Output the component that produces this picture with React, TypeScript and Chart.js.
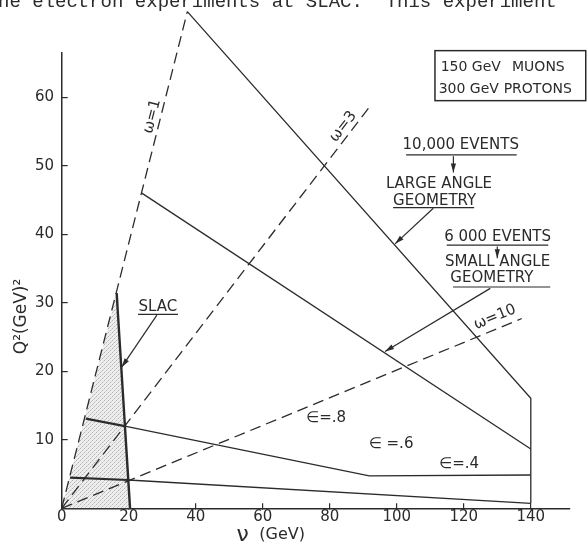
import { useEffect, useRef } from "react";
import { Chart, registerables } from "chart.js";

Chart.register(...registerables);

// ---- data (ν in GeV, Q² in GeV²) ----
const xTicks = [0, 20, 40, 60, 80, 100, 120, 140];
const yTicks = [10, 20, 30, 40, 50, 60];

const omega1Line = [{ x: 0, y: 0 }, { x: 37.5, y: 72.5 }];
const omega3Line = [{ x: 0, y: 0 }, { x: 92.5, y: 59.0 }];
const omega10Line = [{ x: 0, y: 0 }, { x: 137.3, y: 27.7 }];

const largeAngleLine = [{ x: 37.5, y: 72.5 }, { x: 140, y: 16.06 }, { x: 140, y: 0.73 }];
const smallAngleLine = [{ x: 23.9, y: 46.0 }, { x: 140, y: 8.66 }];
const upperEpsLine = [{ x: 7.2, y: 13.1 }, { x: 19.2, y: 11.95 }, { x: 91.8, y: 4.72 }, { x: 140, y: 4.86 }];
const lowerEpsLine = [{ x: 2.5, y: 4.47 }, { x: 19.9, y: 4.13 }, { x: 140, y: 0.73 }];

const slacRegion = [{ x: 0, y: 0 }, { x: 16.4, y: 31.4 }, { x: 20.4, y: 0 }, { x: 0, y: 0 }];
const slacEdge = [{ x: 16.4, y: 31.4 }, { x: 20.4, y: 0 }];

const INK = "#2b2b2b";
const FONT = '"DejaVu Sans", sans-serif';

// annotation texts placed in data coordinates
const annTexts = [
  { t: "10,000 EVENTS", x: 119.1, y: 53.0, ul: [102.8, 135.8, 51.6] },
  { t: "LARGE ANGLE", x: 112.6, y: 47.3 },
  { t: "GEOMETRY", x: 111.3, y: 44.9, ul: [98.9, 123.1, 43.9] },
  { t: "6 000 EVENTS", x: 130.1, y: 39.6, ul: [114.9, 145.2, 38.4] },
  { t: "SMALL ANGLE", x: 130.1, y: 35.9 },
  { t: "GEOMETRY", x: 128.4, y: 33.6, ul: [116.8, 145.8, 32.3] },
  { t: "SLAC", x: 28.7, y: 29.3, ul: [22.8, 34.7, 28.3] },
  { t: "∈=.8", x: 78.9, y: 13.1 },
  { t: "∈ =.6", x: 98.3, y: 9.4 },
  { t: "∈=.4", x: 118.6, y: 6.5 },
];
const annArrows = [
  [116.9, 51.4, 116.9, 49.0],
  [110.9, 43.8, 99.5, 38.6],
  [130.0, 38.2, 130.0, 36.5],
  [127.9, 32.1, 96.5, 22.9],
  [28.4, 28.2, 17.9, 20.6],
];
const omegaLabels = [
  { t: "ω=1", x: 27.0, y: 57.2, line: omega1Line },
  { t: "ω=3", x: 84.0, y: 55.7, line: omega3Line },
  { t: "ω=10", x: 129.3, y: 27.9, line: omega10Line },
];

function arrow(ctx: CanvasRenderingContext2D, x1: number, y1: number, x2: number, y2: number) {
  ctx.beginPath();
  ctx.moveTo(x1, y1);
  ctx.lineTo(x2, y2);
  ctx.stroke();
  const a = Math.atan2(y2 - y1, x2 - x1);
  const L = 9, W = 2.6;
  ctx.beginPath();
  ctx.moveTo(x2, y2);
  ctx.lineTo(x2 - L * Math.cos(a) + W * Math.sin(a), y2 - L * Math.sin(a) - W * Math.cos(a));
  ctx.lineTo(x2 - L * Math.cos(a) - W * Math.sin(a), y2 - L * Math.sin(a) + W * Math.cos(a));
  ctx.closePath();
  ctx.fill();
}

const annotPlugin = {
  id: "annot",
  afterDraw(chart: any) {
    const { ctx, scales } = chart;
    const xs = scales.x, ys = scales.y;
    const px = (v: number) => xs.getPixelForValue(v);
    const py = (v: number) => ys.getPixelForValue(v);
    ctx.save();
    ctx.fillStyle = INK;
    ctx.strokeStyle = INK;
    ctx.lineWidth = 1.2;

    // clipped page text at the top
    ctx.font = '19px "Liberation Mono", monospace';
    ctx.textAlign = "left";
    ctx.textBaseline = "alphabetic";
    ctx.fillText("he electron experiments at SLAC.  This experiment", -2, 7);

    // axis titles
    ctx.save();
    ctx.translate(chart.chartArea.left - 40, py(28));
    ctx.rotate(-Math.PI / 2);
    ctx.font = `17px ${FONT}`;
    ctx.textAlign = "center";
    ctx.textBaseline = "middle";
    ctx.fillText("Q²(GeV)²", 0, 0);
    ctx.restore();

    ctx.textBaseline = "middle";
    ctx.textAlign = "center";
    const ty = chart.chartArea.bottom + 27;
    ctx.font = `22px ${FONT}`;
    ctx.fillText("ν", px(54.0), ty);
    ctx.font = `16px ${FONT}`;
    ctx.fillText("(GeV)", px(65.8), ty);

    // annotation texts
    ctx.font = `15px ${FONT}`;
    for (const a of annTexts) {
      ctx.fillText(a.t, px(a.x), py(a.y));
      if (a.ul) {
        ctx.beginPath();
        ctx.moveTo(px(a.ul[0]), py(a.ul[2]));
        ctx.lineTo(px(a.ul[1]), py(a.ul[2]));
        ctx.stroke();
      }
    }
    for (const r of annArrows) arrow(ctx, px(r[0]), py(r[1]), px(r[2]), py(r[3]));

    // rotated omega labels
    for (const o of omegaLabels) {
      const p0 = o.line[0], p1 = o.line[o.line.length - 1];
      const ang = Math.atan2(py(p1.y) - py(p0.y), px(p1.x) - px(p0.x));
      ctx.save();
      ctx.translate(px(o.x), py(o.y));
      ctx.rotate(ang);
      ctx.fillText(o.t, 0, 0);
      ctx.restore();
    }

    // beam box
    ctx.lineWidth = 1.5;
    const bx0 = px(111.4), bx1 = px(156.4), by0 = py(66.8), by1 = py(59.5);
    ctx.strokeRect(bx0, by0, bx1 - bx0, by1 - by0);
    ctx.textAlign = "left";
    ctx.font = `14px ${FONT}`;
    ctx.fillText("150 GeV", px(113.1), py(64.3));
    ctx.fillText("MUONS", px(134.4), py(64.3));
    ctx.fillText("300 GeV", px(112.5), py(61.1));
    ctx.fillText("PROTONS", px(131.9), py(61.1));

    ctx.restore();
  },
};

export default function App() {
  const ref = useRef<HTMLCanvasElement | null>(null);
  useEffect(() => {
    if (!ref.current) return;
    const pc = document.createElement("canvas");
    pc.width = 4;
    pc.height = 4;
    const pctx = pc.getContext("2d")!;
    pctx.fillStyle = "#eeeeee";
    pctx.fillRect(0, 0, 4, 4);
    pctx.fillStyle = "#b4b4b4";
    pctx.fillRect(0, 0, 1, 1);
    pctx.fillRect(2, 2, 1, 1);
    pctx.fillStyle = "#cfcfcf";
    pctx.fillRect(3, 1, 1, 1);
    pctx.fillRect(1, 3, 1, 1);
    const pattern = pctx.createPattern(pc, "repeat")!;

    const base = {
      borderColor: INK,
      borderWidth: 1.3,
      pointRadius: 0,
      showLine: true,
      fill: false,
      clip: false,
      tension: 0,
    };
    const dash = [11, 6];
    const tickFont = { family: FONT, size: 15 };

    const chart = new Chart(ref.current, {
      type: "scatter",
      data: {
        datasets: [
          { ...base, data: slacRegion, fill: "shape", backgroundColor: pattern, borderWidth: 0, order: 10 } as any,
          { ...base, data: slacEdge, borderWidth: 2.4 },
          { ...base, data: omega1Line, borderDash: dash },
          { ...base, data: omega3Line, borderDash: dash },
          { ...base, data: omega10Line, borderDash: dash },
          { ...base, data: largeAngleLine },
          { ...base, data: smallAngleLine },
          { ...base, data: upperEpsLine, segment: { borderWidth: (c: any) => (c.p0DataIndex === 0 ? 2.2 : 1.3) } },
          { ...base, data: lowerEpsLine, segment: { borderWidth: (c: any) => (c.p0DataIndex === 0 ? 2.2 : 1.3) } },
        ],
      },
      options: {
        responsive: false,
        animation: false,
        events: [],
        layout: { padding: { left: 0, right: 18, top: 52.7, bottom: 0 } },
        plugins: { legend: { display: false }, tooltip: { enabled: false } },
        scales: {
          x: {
            type: "linear",
            min: 0,
            max: 151.7,
            afterBuildTicks: (s: any) => {
              s.ticks = xTicks.map((value) => ({ value }));
            },
            afterFit: (s: any) => {
              s.height = 38.7;
            },
            ticks: { font: tickFont, color: INK, padding: 5.3, maxRotation: 0, autoSkip: false },
            grid: { display: true, drawOnChartArea: false, drawTicks: true, tickLength: -5, color: INK, lineWidth: 1.2 },
            border: { display: true, color: INK, width: 1.5 },
          },
          y: {
            type: "linear",
            min: 0,
            max: 66.5,
            afterBuildTicks: (s: any) => {
              s.ticks = yTicks.map((value) => ({ value }));
            },
            afterFit: (s: any) => {
              s.width = 61.7;
            },
            ticks: { font: tickFont, color: INK, padding: 13.7, autoSkip: false },
            grid: { display: true, drawOnChartArea: false, drawTicks: true, tickLength: -6, color: INK, lineWidth: 1.2 },
            border: { display: true, color: INK, width: 1.5 },
          },
        },
      },
      plugins: [annotPlugin],
    });
    return () => chart.destroy();
  }, []);

  return (
    <canvas
      ref={ref}
      width={588}
      height={547}
      style={{ position: "absolute", left: 0, top: 0, background: "#ffffff" }}
    />
  );
}
